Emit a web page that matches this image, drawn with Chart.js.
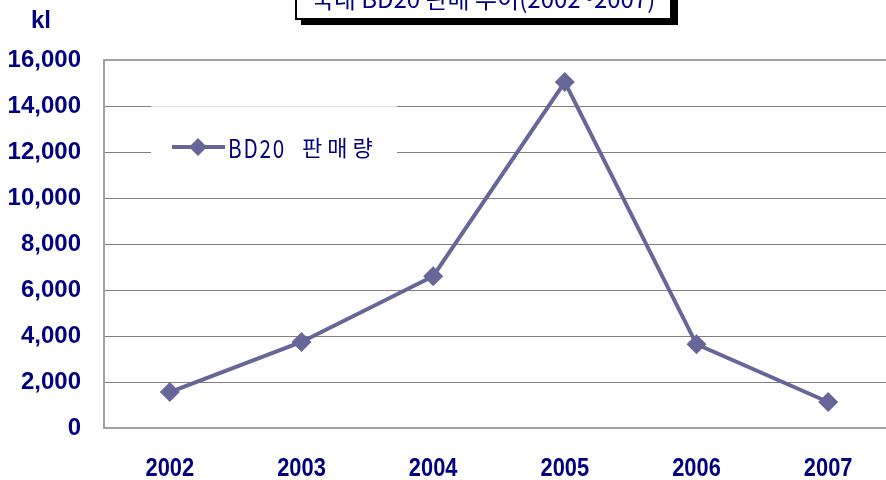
<!DOCTYPE html>
<html>
<head>
<meta charset="utf-8">
<script src="https://cdn.jsdelivr.net/npm/chart.js@4"></script>
<style>
  html, body { margin: 0; padding: 0; background: #fff; overflow: hidden; }
  #wrap { position: relative; width: 904px; height: 480px; }
  #title {
    position: absolute; left: 295px; top: -24px; width: 373px; height: 40px;
    border: 2px solid #000; background: #fff; box-shadow: 6px 5px 0 #000;
    font-family: "Noto Sans CJK KR", sans-serif; font-size: 24px; color: #000080;
    text-align: center; line-height: 40px; z-index: 2;
  }
</style>
</head>
<body>
<div id="wrap">
  <div id="title">국내 BD20 판매 추이(2002~2007)</div>
  <canvas id="chart" width="904" height="480"></canvas>
</div>
<script>
const years = ['2002', '2003', '2004', '2005', '2006', '2007'];
const sales = [1560, 3740, 6600, 15040, 3640, 1130];
const seriesName = 'BD20 판매량';
const unitLabel = 'kl';
const navy = '#000080';
const lineColor = '#666699';

// legend box, axis unit and squeezed year labels
const extras = {
  id: 'extras',
  afterDatasetsDraw(chart) {
    const c = chart.ctx;
    const area = chart.chartArea;
    c.save();
    // legend
    c.fillStyle = '#fff';
    c.fillRect(151, 105, 246, 64);
    c.strokeStyle = '#dcdcdc';
    c.lineWidth = 1;
    c.beginPath(); c.moveTo(151, 106.5); c.lineTo(397, 106.5); c.stroke();
    c.strokeStyle = lineColor;
    c.lineWidth = 4;
    c.beginPath(); c.moveTo(172, 147); c.lineTo(225, 147); c.stroke();
    c.fillStyle = lineColor;
    c.beginPath();
    c.moveTo(198, 138); c.lineTo(207, 147); c.lineTo(198, 156); c.lineTo(189, 147);
    c.closePath(); c.fill();
    c.fillStyle = navy;
    c.textAlign = 'left';
    c.textBaseline = 'middle';
    const parts = seriesName.split(' ');
    c.save();
    c.translate(228, 148);
    c.scale(0.9, 1.1);
    c.font = '23px "Noto Sans CJK KR"';
    c.letterSpacing = '2px';
    c.fillText(parts[0], 0, 0);
    c.restore();
    c.font = '22px "Noto Sans CJK KR"';
    c.letterSpacing = '5px';
    c.fillText(parts[1], 302, 148);
    c.letterSpacing = '0px';
    // unit
    c.font = 'bold 24px "Liberation Sans"';
    c.textAlign = 'center';
    c.textBaseline = 'alphabetic';
    c.fillText(unitLabel, 41, 28);
    // x labels
    const xs = chart.scales.x;
    c.font = 'bold 26px "Liberation Sans"';
    years.forEach((y, i) => {
      const px = xs.getPixelForTick(i);
      c.save();
      c.translate(px, 476);
      c.scale(0.84, 1);
      c.fillText(y, 0, 0);
      c.restore();
    });
    // plot border
    c.strokeStyle = '#a0a0a0';
    c.lineWidth = 2;
    c.strokeRect(area.left, area.top, area.right - area.left, area.bottom - area.top);
    c.restore();
  }
};

new Chart(document.getElementById('chart'), {
  type: 'line',
  data: {
    labels: years,
    datasets: [{
      label: seriesName,
      data: sales,
      borderColor: lineColor,
      backgroundColor: lineColor,
      borderWidth: 4,
      pointStyle: 'rectRot',
      pointRadius: 10,
      pointBorderWidth: 0,
      tension: 0
    }]
  },
  options: {
    responsive: false,
    animation: false,
    layout: { padding: { top: 60, right: 0, left: 0, bottom: 0 } },
    plugins: { legend: { display: false }, tooltip: { enabled: false } },
    scales: {
      x: {
        offset: true,
        grid: { display: false, drawTicks: false },
        border: { display: false },
        ticks: { display: false },
        afterFit(s) { s.height = 52; }
      },
      y: {
        min: 0, max: 16000,
        grid: { color: '#808080', drawTicks: false },
        border: { display: false },
        ticks: {
          stepSize: 2000,
          padding: 23,
          color: navy,
          font: { family: 'Liberation Sans', size: 24, weight: 'bold' },
          callback: v => v.toLocaleString('en-US')
        },
        afterFit(s) { s.width = 104; }
      }
    }
  },
  plugins: [extras]
});
</script>
</body>
</html>
